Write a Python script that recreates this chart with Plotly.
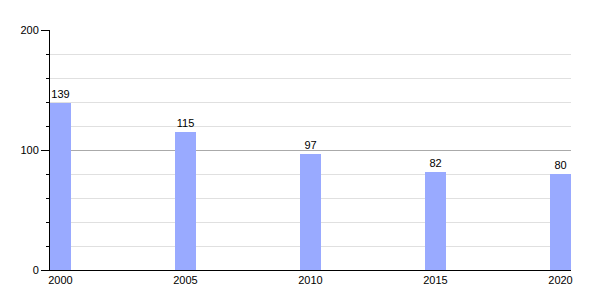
import plotly.graph_objects as go

years = [2000, 2005, 2010, 2015, 2020]
values = [139, 115, 97, 82, 80]
tick_labels = ["2000", "2005", "2010", "2015", "2020"]

fig = go.Figure(go.Bar(
    x=years, y=values, width=0.84,
    marker=dict(color="#99aaff", line=dict(width=0)),
    text=[str(v) for v in values], textposition="outside",
    textfont=dict(family="Liberation Sans, Arial", size=11, color="black"),
    cliponaxis=False,
))

fig.update_layout(
    width=600, height=300,
    margin=dict(l=50, r=29, t=30, b=30),
    plot_bgcolor="white", paper_bgcolor="white",
    font=dict(family="Liberation Sans, Arial", size=11, color="black"),
    showlegend=False,
    bargap=0,
)
fig.update_xaxes(
    range=[1999.584, 2020.42], tickvals=years, ticktext=tick_labels,
    showgrid=False, showline=True, linecolor="black", linewidth=1,
    ticks="", zeroline=False, fixedrange=True,
)
fig.update_yaxes(
    range=[0, 200], tickvals=[0, 100, 200],
    showgrid=True, gridcolor="#aaaaaa", gridwidth=1,
    showline=True, linecolor="black", linewidth=1,
    ticks="outside", ticklen=8, tickcolor="black",
    zeroline=False,
    minor=dict(dtick=20, ticks="outside", ticklen=3, tickcolor="black",
               showgrid=True, gridcolor="#e0e0e0", gridwidth=1),
)

fig.write_html("out.html")
